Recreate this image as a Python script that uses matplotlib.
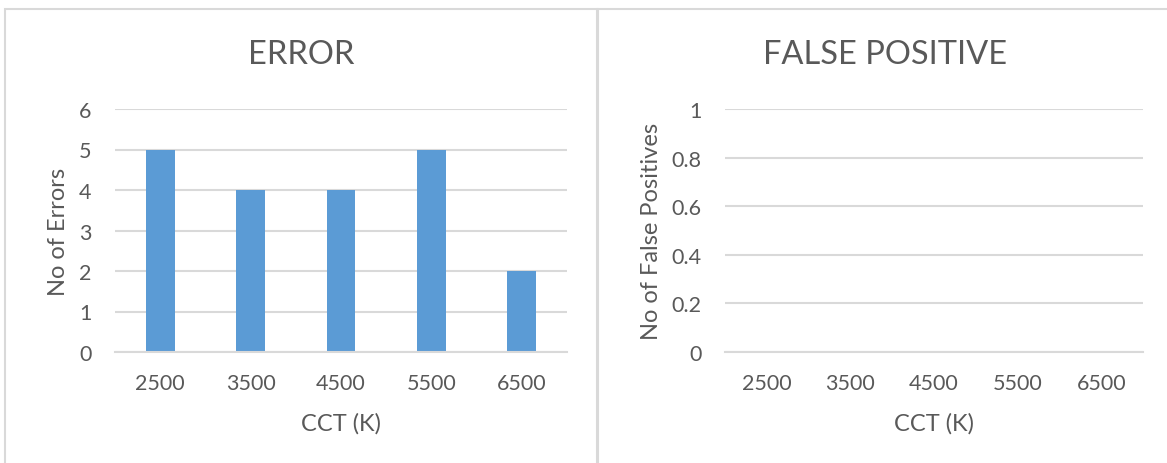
import matplotlib
matplotlib.use('Agg')
import matplotlib.pyplot as plt
from matplotlib.patches import Rectangle

plt.rcParams['font.family'] = ['Lato', 'DejaVu Sans']

# CCT levels tested and the error counts for each
cct_labels = ['2500', '3500', '4500', '5500', '6500']
error_counts = [5, 4, 4, 5, 2]
false_positive_counts = [0, 0, 0, 0, 0]

text_color = '#595959'
grid_color = '#D9D9D9'
bar_color = '#5B9BD5'

W, H = 1167, 464
fig = plt.figure(figsize=(W / 100, H / 100), dpi=100)


def px_box(x0, y0, x1, y1):
    # pixel box (top-left origin) -> figure fraction [left, bottom, width, height]
    return [x0 / W, 1 - y1 / H, (x1 - x0) / W, (y1 - y0) / H]


# chart frames
for x0, x1 in [(5, 597), (598, 1175)]:
    fig.add_artist(Rectangle((x0 / W, -0.1), (x1 - x0) / W, 1.1 - 10 / H,
                             transform=fig.transFigure, fill=False,
                             edgecolor=grid_color, linewidth=1.5))


def style_axis(ax, ylabel, title, title_x):
    ax.set_axisbelow(True)
    ax.yaxis.grid(True, color=grid_color, linewidth=1.5)
    for side in ['top', 'right', 'left']:
        ax.spines[side].set_visible(False)
    ax.spines['bottom'].set_color(grid_color)
    ax.spines['bottom'].set_linewidth(1.5)
    ax.tick_params(length=0, labelsize=15.5, labelcolor=text_color)
    ax.tick_params(axis='x', pad=15)
    ax.tick_params(axis='y', pad=17)
    ax.set_xlabel('CCT (K)', fontsize=17, color=text_color, labelpad=14)
    ax.set_ylabel(ylabel, fontsize=17, color=text_color, labelpad=7)
    fig.text(title_x / W, 1 - 55 / H, title, fontsize=23.5, color=text_color,
             ha='center', va='center')


# left: errors
ax1 = fig.add_axes(px_box(115, 110, 567, 353))
ax1.bar(cct_labels, error_counts, width=0.32, color=bar_color)
ax1.set_xlim(-0.5, len(cct_labels) - 0.5)
ax1.set_ylim(0, 6)
ax1.set_yticks(range(0, 7))
style_axis(ax1, 'No of Errors', 'ERROR', 301)

# right: false positives (all zero)
ax2 = fig.add_axes(px_box(725, 110, 1143, 353))
ax2.bar(cct_labels, false_positive_counts, width=0.32, color=bar_color)
ax2.set_xlim(-0.5, len(cct_labels) - 0.5)
ax2.set_ylim(0, 1)
ax2.set_yticks([0, 0.2, 0.4, 0.6, 0.8, 1])
ax2.set_yticklabels(['0', '0.2', '0.4', '0.6', '0.8', '1'])
style_axis(ax2, 'No of False Positives', 'FALSE POSITIVE', 885)

fig.savefig('out.png', dpi=100)
